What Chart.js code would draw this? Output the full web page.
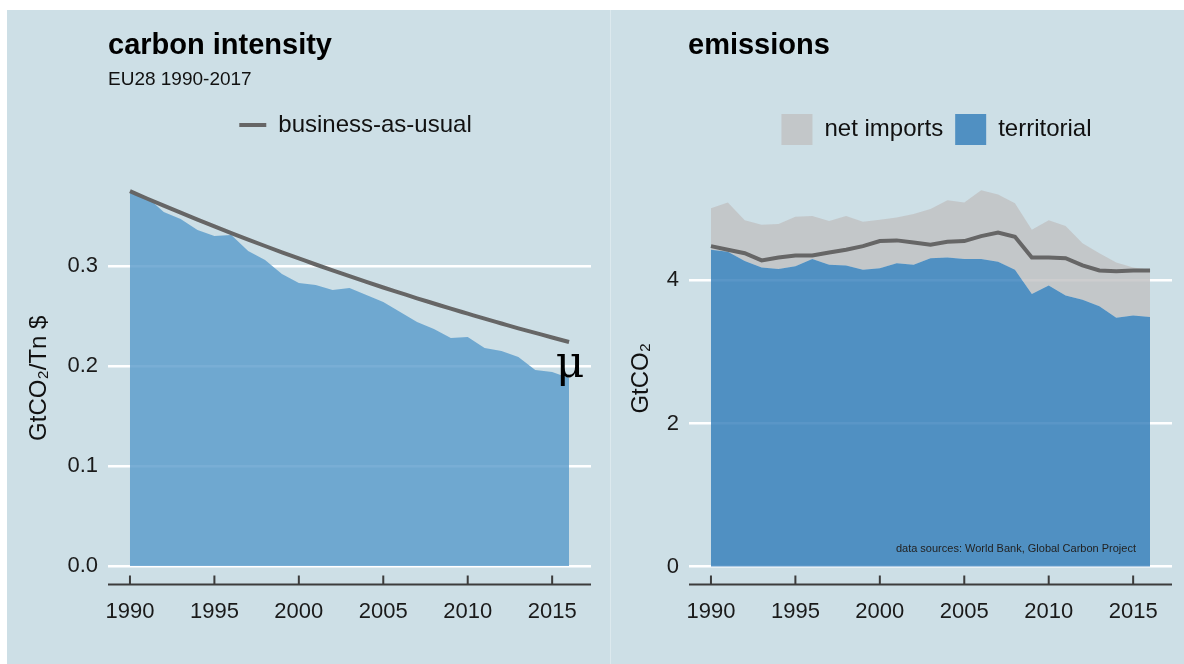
<!DOCTYPE html>
<html>
<head>
<meta charset="utf-8">
<script src="https://cdn.jsdelivr.net/npm/chart.js@4.4.1/dist/chart.umd.min.js"></script>
<style>
  body { margin: 0; background: #fff; font-family: "Liberation Sans", Arial, Helvetica, sans-serif; }
  #wrap { position: relative; width: 1184px; height: 664px; overflow: hidden; }
  .panel { position: absolute; background: #cddfe6; }
  .box { position: absolute; }
  .title { position: absolute; font-weight: bold; font-size: 29px; line-height: 29px; color: #000; white-space: nowrap; }
  .sub { position: absolute; font-size: 19px; line-height: 19px; color: #111; white-space: nowrap; }
  .note { position: absolute; font-size: 11px; line-height: 11px; color: #222; white-space: nowrap; }
</style>
</head>
<body>
<div id="wrap">
  <div class="panel" style="left:7px;top:10px;width:603px;height:654px"></div>
  <div class="panel" style="left:610px;top:10px;width:1px;height:654px;background:#dce9ee"></div>
  <div class="panel" style="left:611px;top:10px;width:573px;height:654px"></div>

  <div class="box" style="left:7px;top:10px;width:603px;height:654px"><canvas id="intensityChart"></canvas></div>
  <div class="box" style="left:611px;top:10px;width:573px;height:654px"><canvas id="emissionsChart"></canvas></div>

  <div class="title" style="left:108px;top:30px">carbon intensity</div>
  <div class="sub" style="left:108px;top:69px">EU28 1990-2017</div>
  <div class="title" style="left:688px;top:30px">emissions</div>
  <div class="note" style="right:48px;top:543px">data sources: World Bank, Global Carbon Project</div>
</div>

<script>
// years on the x axis
const years = [1990, 1991, 1992, 1993, 1994, 1995, 1996, 1997, 1998, 1999, 2000, 2001, 2002,
  2003, 2004, 2005, 2006, 2007, 2008, 2009, 2010, 2011, 2012, 2013, 2014, 2015, 2016];
const yearTicks = [1990, 1995, 2000, 2005, 2010, 2015];

// left panel: carbon intensity (GtCO2 / Tn $)
const intensity = [0.374, 0.369, 0.354, 0.347, 0.336, 0.330, 0.331, 0.315, 0.306, 0.292, 0.283,
  0.281, 0.276, 0.278, 0.271, 0.264, 0.254, 0.244, 0.237, 0.228, 0.229, 0.218, 0.215, 0.209,
  0.196, 0.194, 0.188];
const bauIntensity = [0.3750, 0.3676, 0.3604, 0.3534, 0.3465, 0.3397, 0.3330, 0.3265, 0.3201,
  0.3138, 0.3077, 0.3016, 0.2957, 0.2899, 0.2842, 0.2786, 0.2732, 0.2678, 0.2626, 0.2574,
  0.2524, 0.2474, 0.2426, 0.2378, 0.2332, 0.2286, 0.2241];
const intensityTicks = [0, 0.1, 0.2, 0.3];

// right panel: emissions (GtCO2)
const territorial = [4.43, 4.40, 4.27, 4.18, 4.16, 4.20, 4.30, 4.22, 4.21, 4.15, 4.17, 4.24, 4.22,
  4.31, 4.32, 4.30, 4.30, 4.26, 4.15, 3.81, 3.93, 3.79, 3.73, 3.64, 3.48, 3.51, 3.49];
const consumption = [5.01, 5.09, 4.84, 4.78, 4.79, 4.89, 4.90, 4.83, 4.90, 4.82, 4.85, 4.88, 4.93,
  5.00, 5.12, 5.09, 5.26, 5.20, 5.08, 4.71, 4.84, 4.76, 4.52, 4.38, 4.25, 4.18, 4.15];
const emissionsLine = [4.48, 4.43, 4.38, 4.28, 4.32, 4.35, 4.35, 4.39, 4.43, 4.48, 4.55, 4.56, 4.53,
  4.50, 4.54, 4.55, 4.62, 4.67, 4.61, 4.32, 4.32, 4.31, 4.21, 4.14, 4.13, 4.14, 4.14];
const emissionsTicks = [0, 2, 4];

const FONT = '"Liberation Sans", Arial, Helvetica, sans-serif';
Chart.defaults.font.family = FONT;
Chart.defaults.color = '#1a1a1a';

let points = (arr) => arr.map((v, i) => ({ x: years[i], y: v }));

// force the legend block to a fixed height so the plot area sits where it should,
// and nudge it a little to the right like the original
let legendBox = (h, dx) => ({
  id: 'legendBox',
  beforeInit(chart) {
    const fit = chart.legend.fit;
    chart.legend.fit = function () { fit.call(this); this.height = h; };
  },
  afterLayout(chart) {
    chart.legend.left += dx;
    chart.legend.right += dx;
  }
});

// bottom axis line with short ticks pointing up into the panel
const axisLine = {
  id: 'axisLine',
  afterDraw(chart) {
    const { ctx, chartArea, scales } = chart;
    const y = chartArea.bottom - 1;
    ctx.save();
    ctx.strokeStyle = '#3c3c3c';
    ctx.lineWidth = 2;
    ctx.beginPath();
    ctx.moveTo(chartArea.left, y);
    ctx.lineTo(chartArea.right, y);
    scales.x.ticks.forEach(t => {
      const px = scales.x.getPixelForValue(t.value);
      ctx.moveTo(px, y);
      ctx.lineTo(px, y - 9);
    });
    ctx.stroke();
    ctx.restore();
  }
};

// the mu label next to the last intensity value
const muLabel = {
  id: 'muLabel',
  afterDatasetsDraw(chart) {
    const { ctx, scales } = chart;
    const i = intensity.length - 1;
    const px = scales.x.getPixelForValue(years[i]);
    const py = scales.y.getPixelForValue(intensity[i]);
    ctx.save();
    ctx.font = '44px "DejaVu Serif", "Liberation Serif", serif';
    ctx.fillStyle = '#000';
    ctx.textAlign = 'center';
    ctx.textBaseline = 'alphabetic';
    ctx.fillText('μ', px + 1, py - 1);
    ctx.restore();
  }
};

let xScale = () => ({
  type: 'linear',
  min: 1988.7,
  max: 2017.3,
  afterBuildTicks: (s) => { s.ticks = yearTicks.map(v => ({ value: v })); },
  afterFit: (s) => { s.height = 78.5; },
  grid: { display: false, drawTicks: false },
  border: { display: false },
  ticks: { font: { size: 22 }, padding: 13, maxRotation: 0, autoSkip: false, callback: v => String(v) }
});

let yScale = (min, max, tickVals, width, titleText, titlePad, fmt) => ({
  type: 'linear',
  min: min,
  max: max,
  afterBuildTicks: (s) => { s.ticks = tickVals.map(v => ({ value: v })); },
  afterFit: (s) => { s.width = width; },
  grid: { color: '#ffffff', lineWidth: 2.5, drawTicks: false },
  border: { display: false },
  ticks: { font: { size: 22 }, padding: 10, callback: fmt },
  title: { display: true, text: titleText, font: { size: 24, lineHeight: 1.2 }, color: '#111',
    padding: { top: titlePad, bottom: 0 } }
});

// left chart
new Chart(document.getElementById('intensityChart').getContext('2d'), {
  type: 'line',
  data: {
    datasets: [{
      label: 'business-as-usual',
      data: points(bauIntensity),
      borderColor: '#666666',
      borderWidth: 4,
      pointRadius: 0,
      fill: false,
      cubicInterpolationMode: 'monotone'
    }, {
      label: 'intensity',
      data: points(intensity),
      backgroundColor: 'rgba(88,154,203,0.8)',
      borderColor: 'rgba(0,0,0,0)',
      borderWidth: 0,
      pointRadius: 0,
      fill: 'origin',
      tension: 0
    }]
  },
  options: {
    responsive: true,
    maintainAspectRatio: false,
    animation: false,
    layout: { padding: { top: 91, right: 19, bottom: 0, left: 0 } },
    scales: {
      x: xScale(),
      y: yScale(-0.0194, 0.3951, intensityTicks, 101, 'GtCO₂/Tn $', 18, v => v.toFixed(1))
    },
    plugins: {
      tooltip: { enabled: false },
      legend: {
        position: 'top',
        fullSize: false,
        labels: {
          filter: item => item.text === 'business-as-usual',
          usePointStyle: true,
          pointStyle: 'line',
          pointStyleWidth: 27,
          padding: 12,
          color: '#111',
          font: { size: 24 }
        }
      }
    }
  },
  plugins: [legendBox(70, 6), axisLine, muLabel]
});

// right chart
new Chart(document.getElementById('emissionsChart').getContext('2d'), {
  type: 'line',
  data: {
    datasets: [{
      label: 'line',
      data: points(emissionsLine),
      borderColor: '#666666',
      borderWidth: 4,
      pointRadius: 0,
      fill: false,
      tension: 0
    }, {
      label: 'territorial',
      data: points(territorial),
      backgroundColor: 'rgba(49,124,185,0.8)',
      borderColor: 'rgba(0,0,0,0)',
      borderWidth: 0,
      pointRadius: 0,
      fill: 'origin',
      tension: 0
    }, {
      label: 'net imports',
      data: points(consumption),
      backgroundColor: 'rgba(193,192,194,0.8)',
      borderColor: 'rgba(0,0,0,0)',
      borderWidth: 0,
      pointRadius: 0,
      fill: '-1',
      tension: 0
    }]
  },
  options: {
    responsive: true,
    maintainAspectRatio: false,
    animation: false,
    layout: { padding: { top: 92, right: 12, bottom: 0, left: 0 } },
    scales: {
      x: xScale(),
      y: yScale(-0.265, 5.53, emissionsTicks, 78, 'GtCO₂', 16, v => String(v))
    },
    plugins: {
      tooltip: { enabled: false },
      legend: {
        position: 'top',
        fullSize: false,
        reverse: true,
        labels: {
          filter: item => item.text !== 'line',
          boxWidth: 31,
          boxHeight: 31,
          padding: 12,
          color: '#111',
          font: { size: 24 }
        }
      }
    }
  },
  plugins: [legendBox(69, 6), axisLine]
});
</script>
</body>
</html>
